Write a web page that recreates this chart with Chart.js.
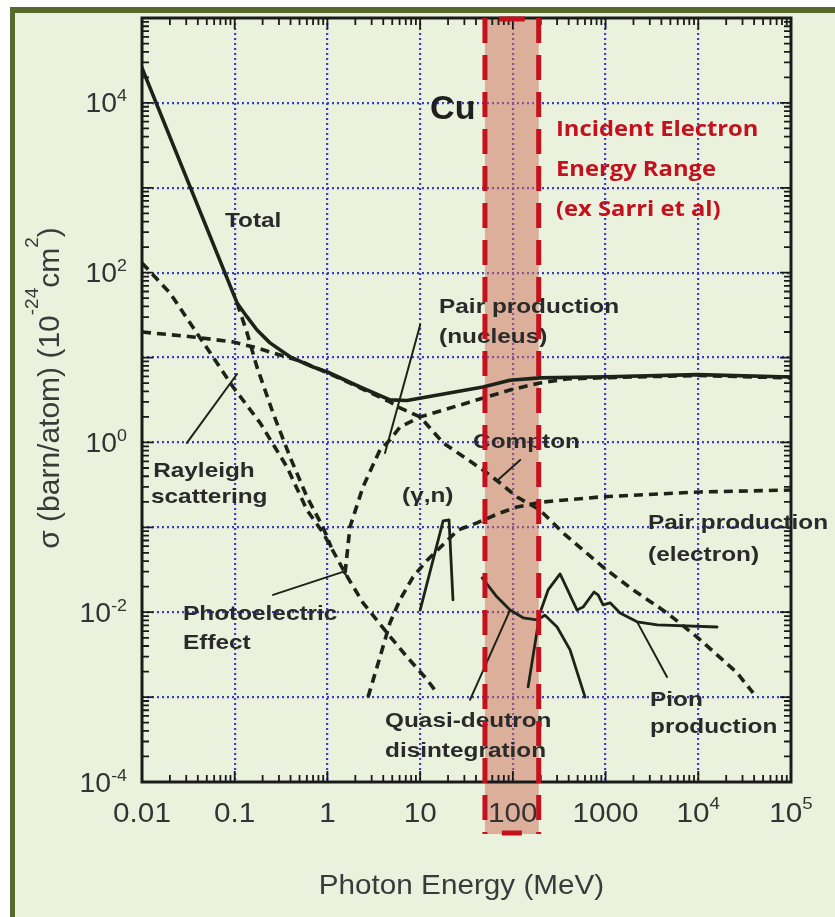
<!DOCTYPE html>
<html>
<head>
<meta charset="utf-8">
<script src="https://cdn.jsdelivr.net/npm/chart.js@4.4.1/dist/chart.umd.min.js"></script>
<style>
  html, body { margin: 0; padding: 0; background: #ffffff; }
  #wrap { width: 835px; height: 917px; }
  canvas { display: block; }
</style>
</head>
<body>
<div id="wrap"><canvas id="xsec" width="835" height="917"></canvas></div>
<script>
// Photon interaction cross sections in copper, barn/atom versus photon energy in MeV

const energyTotal = [0.01, 0.106, 0.136, 0.174, 0.24, 0.395, 0.70, 1.0, 2.25, 4.73, 7.2, 47.6, 93, 195, 1040, 9800, 1e5];
const sigmaTotal  = [25800, 44, 30.1, 21.1, 14.9, 10.2, 7.74, 6.76, 4.5, 3.17, 3.12, 4.5, 5.4, 5.76, 5.95, 6.3, 5.9];

const energyRayleigh = [0.01, 0.02, 0.039, 0.096, 0.188, 0.366, 0.602, 0.897, 1.55, 2.42, 4.40, 7.23, 11.9, 15.2];
const sigmaRayleigh  = [130, 57.7, 19.5, 4.5, 1.70, 0.514, 0.160, 0.086, 0.029, 0.0129, 0.0057, 0.00297, 0.0016, 0.00112];

const energyPhoto = [0.106, 0.136, 0.174, 0.259, 0.395, 0.602, 0.897, 1.1];
const sigmaPhoto  = [44, 19.5, 7.7, 2.22, 0.674, 0.228, 0.10, 0.058];

const energyCompton = [0.01, 0.0355, 0.096, 0.174, 0.308, 0.506, 1.0, 2.25, 4.73, 6.06, 10, 17.7, 47.6, 72.8, 111, 196, 348, 940, 1980, 4610, 9700, 26200, 39000];
const sigmaCompton  = [20, 17.5, 15.3, 13.0, 10.7, 9.1, 6.6, 4.4, 3.0, 2.55, 2.0, 0.99, 0.474, 0.333, 0.228, 0.160, 0.086, 0.034, 0.0183, 0.0098, 0.0051, 0.00193, 0.00112];

const energyPairNucleus = [1.55, 1.75, 2.42, 3.69, 4.73, 6.06, 10, 32, 93, 196, 384, 1040, 9800, 1e5];
const sigmaPairNucleus  = [0.029, 0.101, 0.30, 0.82, 1.07, 1.52, 2.0, 2.92, 4.15, 5.02, 5.6, 5.8, 6.15, 5.75];

const energyPairElectron = [2.74, 3.69, 4.73, 6.06, 8.38, 11.9, 25.6, 41.1, 72.8, 111, 212, 873, 10450, 1e5];
const sigmaPairElectron  = [0.001, 0.00297, 0.0075, 0.014, 0.026, 0.041, 0.093, 0.113, 0.148, 0.174, 0.199, 0.228, 0.261, 0.275];

const energyGammaN = [10, 17.7, 20.5, 22.6];
const sigmaGammaN  = [0.0106, 0.119, 0.122, 0.014];

const energyQuasiDeuteron = [46.6, 67.6, 93.3, 129, 182, 222, 300, 414, 601];
const sigmaQuasiDeuteron  = [0.0254, 0.0151, 0.0106, 0.0086, 0.0081, 0.0092, 0.0067, 0.0036, 0.001];

const energyPion = [146, 196, 240, 323, 493, 572, 751, 830, 940, 1119, 1433, 2188, 3597, 15960];
const sigmaPion  = [0.00132, 0.0098, 0.0183, 0.0283, 0.0106, 0.0115, 0.0173, 0.016, 0.0122, 0.0129, 0.0098, 0.0077, 0.0071, 0.0067];

// leader lines from the captions to their curves: [energy, sigma] pairs
const leaderRayleigh    = [[0.0305, 0.987], [0.106, 6.4]];
const leaderPairNucleus = [[10, 24.2], [4.18, 0.75]];
const leaderCompton     = [[120, 0.622], [69, 0.361]];
const leaderPhoto       = [[0.259, 0.016], [1.47, 0.0299], [1.67, 0.026]];
const leaderQuasi       = [[34.5, 0.00093], [93.3, 0.0106]];
const leaderPion        = [[2188, 0.0077], [4600, 0.00173]];

// incident electron energy range (MeV)
const bandRange = [50, 190];

const xTickValues = [0.01, 0.1, 1, 10, 100, 1000, 1e4, 1e5];
const xTickLabels = ['0.01', '0.1', '1', '10', '100', '1000', '10^4', '10^5'];
const yTickValues = [1e-4, 1e-2, 1, 1e2, 1e4];
const yTickLabels = ['10^-4', '10^-2', '10^0', '10^2', '10^4'];

const curveCaptions = [
  { text: 'Total',           at: [0.0785, 406] },
  { text: 'Rayleigh',        at: [0.0132, 0.461] },
  { text: 'scattering',      at: [0.0125, 0.228] },
  { text: 'Photoelectric',   at: [0.0277, 0.00955] },
  { text: 'Effect',          at: [0.0277, 0.00435] },
  { text: 'Pair production', at: [16.0, 39.4] },
  { text: '(nucleus)',       at: [16.0, 17.5] },
  { text: 'Compton',         at: [37.2, 1.01] },
  { text: '(\u03B3,n)',      at: [6.38, 0.234] },
  { text: 'Pair production', at: [2872, 0.1127] },
  { text: '(electron)',      at: [2872, 0.0473] },
  { text: 'Quasi-deutron',   at: [4.18, 5.25e-4] },
  { text: 'disintegration',  at: [4.18, 2.32e-4] },
  { text: 'Pion',            at: [3020, 9.27e-4] },
  { text: 'production',      at: [3020, 4.46e-4] }
];
const elementCaption = { text: 'Cu', at: [12.8, 8240] };
const bandCaption = { lines: ['Incident Electron', 'Energy Range', '(ex Sarri et al)'], at: [292, [4800, 1622, 548]] };

const xTitle = 'Photon Energy (MeV)';
const yTitleParts = [['\u03C3 (barn/atom) (10', false], ['-24', true], ['cm', false], ['2', true], [')', false]];

// ---------------------------------------------------------------

const INK = '#1c2318';
const GRID = '#3c3cc8';
const BG = '#eaf2dd';
const OLIVE = '#56692f';
const RED = '#c3121d';
const FONT = '"Liberation Sans", Arial, sans-serif';

const pairs = (E, S) => E.map((e, i) => ({ x: e, y: S[i] }));
const points = (list) => list.map(p => ({ x: p[0], y: p[1] }));

function solid(label, data, width) {
  return { label, data, borderColor: INK, borderWidth: width, pointRadius: 0, tension: 0, fill: false,
           borderCapStyle: 'round', borderJoinStyle: 'round' };
}
function dashed(label, data) {
  return { label, data, borderColor: INK, borderWidth: 3.6, borderDash: [9, 6], pointRadius: 0, tension: 0,
           fill: false, borderCapStyle: 'butt', borderJoinStyle: 'round' };
}

const datasets = [
  solid('Total', pairs(energyTotal, sigmaTotal), 3.6),
  dashed('Rayleigh scattering', pairs(energyRayleigh, sigmaRayleigh)),
  dashed('Photoelectric effect', pairs(energyPhoto, sigmaPhoto)),
  dashed('Compton', pairs(energyCompton, sigmaCompton)),
  dashed('Pair production (nucleus)', pairs(energyPairNucleus, sigmaPairNucleus)),
  dashed('Pair production (electron)', pairs(energyPairElectron, sigmaPairElectron)),
  solid('(gamma,n)', pairs(energyGammaN, sigmaGammaN), 2.8),
  solid('Quasi-deuteron', pairs(energyQuasiDeuteron, sigmaQuasiDeuteron), 2.8),
  solid('Pion production', pairs(energyPion, sigmaPion), 2.8),
  solid('leader Rayleigh', points(leaderRayleigh), 2),
  solid('leader pair nucleus', points(leaderPairNucleus), 2),
  solid('leader Compton', points(leaderCompton), 2),
  solid('leader photoelectric', points(leaderPhoto), 2),
  solid('leader quasi-deuteron', points(leaderQuasi), 2),
  solid('leader pion', points(leaderPion), 2)
];

function decades(scale) {
  const out = [];
  const a = Math.round(Math.log10(scale.min)), b = Math.round(Math.log10(scale.max));
  for (let p = a; p <= b; p++) out.push(Number('1e' + p));
  return out;
}

const gridColor = (c) => {
  const s = c.scale, v = c.tick && c.tick.value;
  if (v == null) return 'rgba(0,0,0,0)';
  if (Math.abs(Math.log10(v) - Math.log10(s.min)) < 1e-6 || Math.abs(Math.log10(v) - Math.log10(s.max)) < 1e-6) return 'rgba(0,0,0,0)';
  return GRID;
};

function logScale(min, max) {
  return {
    type: 'logarithmic', min, max,
    afterBuildTicks: (s) => { s.ticks = decades(s).map(v => ({ value: v, major: true })); },
    ticks: { display: false },
    grid: { drawTicks: false, color: gridColor, lineWidth: 2.2 },
    border: { display: false, dash: [2, 3] }
  };
}

// draws "10^n" style text with a raised exponent, optionally widened by sx
function drawPowerText(ctx, str, x, y, align, baseFont, supFont, rise, sx) {
  const parts = str.split('^');
  ctx.font = baseFont;
  const wb = ctx.measureText(parts[0]).width * sx;
  let ws = 0;
  if (parts[1] !== undefined) { ctx.font = supFont; ws = ctx.measureText(parts[1]).width * sx; }
  const total = wb + ws;
  let x0 = x;
  if (align === 'center') x0 = x - total / 2;
  else if (align === 'right') x0 = x - total;
  ctx.textAlign = 'left';
  ctx.textBaseline = 'alphabetic';
  ctx.font = baseFont;
  stretchedText(ctx, parts[0], x0, y, sx);
  if (parts[1] !== undefined) { ctx.font = supFont; stretchedText(ctx, parts[1], x0 + wb, y - rise, sx); }
}

function stretchedText(ctx, text, x, y, sx) {
  ctx.save();
  ctx.translate(x, y);
  ctx.scale(sx, 1);
  ctx.fillText(text, 0, 0);
  ctx.restore();
}

const backdrop = {
  id: 'backdrop',
  beforeDraw(chart) {
    const ctx = chart.ctx, W = chart.width, H = chart.height;
    ctx.save();
    ctx.fillStyle = '#ffffff';
    ctx.fillRect(0, 0, W, H);
    ctx.fillStyle = BG;
    ctx.fillRect(12, 10, W - 12, H - 10);
    ctx.fillStyle = OLIVE;
    ctx.fillRect(10, 7, W - 10, 6);
    ctx.fillRect(10, 7, 5, H - 7);
    ctx.restore();
  }
};

const bandFill = {
  id: 'bandFill',
  beforeDatasetsDraw(chart) {
    const ctx = chart.ctx, x = chart.scales.x, a = chart.chartArea;
    const x0 = x.getPixelForValue(bandRange[0]), x1 = x.getPixelForValue(bandRange[1]);
    ctx.save();
    ctx.fillStyle = 'rgba(206,108,88,0.5)';
    ctx.fillRect(x0, a.top, x1 - x0, a.bottom + 52 - a.top);
    ctx.restore();
  }
};

const frameAndLabels = {
  id: 'frameAndLabels',
  afterDatasetsDraw(chart) {
    const ctx = chart.ctx, a = chart.chartArea, xs = chart.scales.x, ys = chart.scales.y;
    ctx.save();
    // axis box
    ctx.strokeStyle = '#1a1a1a';
    ctx.lineWidth = 3;
    ctx.strokeRect(a.left, a.top, a.right - a.left, a.bottom - a.top);
    // inward major and minor ticks on all four sides
    ctx.lineWidth = 1.8;
    ctx.beginPath();
    decades(xs).forEach(d => {
      for (let m = 1; m <= 9; m++) {
        const v = m * d;
        if (v > xs.max * 1.0001) break;
        const px = xs.getPixelForValue(v), len = m === 1 ? 11 : 7;
        ctx.moveTo(px, a.bottom); ctx.lineTo(px, a.bottom - len);
        ctx.moveTo(px, a.top); ctx.lineTo(px, a.top + len);
      }
    });
    decades(ys).forEach(d => {
      for (let m = 1; m <= 9; m++) {
        const v = m * d;
        if (v > ys.max * 1.0001) break;
        const py = ys.getPixelForValue(v), len = m === 1 ? 11 : 7;
        ctx.moveTo(a.left, py); ctx.lineTo(a.left + len, py);
        ctx.moveTo(a.right, py); ctx.lineTo(a.right - len, py);
      }
    });
    ctx.stroke();

    // tick labels
    ctx.fillStyle = '#333333';
    xTickValues.forEach((v, i) => {
      drawPowerText(ctx, xTickLabels[i], xs.getPixelForValue(v), a.bottom + 40, 'center',
        '27px ' + FONT, '17px ' + FONT, 13, 1.1);
    });
    yTickValues.forEach((v, i) => {
      drawPowerText(ctx, yTickLabels[i], a.left - 15, ys.getPixelForValue(v) + 9.5, 'right',
        '27px ' + FONT, '17px ' + FONT, 11, 1.05);
    });

    // axis titles
    ctx.fillStyle = '#3a3a3a';
    ctx.font = '28px ' + FONT;
    ctx.textAlign = 'center';
    ctx.textBaseline = 'middle';
    stretchedText(ctx, xTitle, (a.left + a.right) / 2 - 5, a.bottom + 104, 1.06);

    const big = '30px ' + FONT, small = '19px ' + FONT;
    let total = 0;
    yTitleParts.forEach(([t, sup]) => { ctx.font = sup ? small : big; total += ctx.measureText(t).width; });
    ctx.save();
    ctx.translate(48, (a.top + a.bottom) / 2 - 12);
    ctx.rotate(-Math.PI / 2);
    ctx.textAlign = 'left';
    ctx.textBaseline = 'alphabetic';
    let u = -total / 2;
    yTitleParts.forEach(([t, sup]) => {
      ctx.font = sup ? small : big;
      ctx.fillText(t, u, sup ? -10 : 11);
      u += ctx.measureText(t).width;
    });
    ctx.restore();

    // captions of the curves
    ctx.fillStyle = '#2a2a2a';
    ctx.font = 'bold 21px ' + FONT;
    ctx.textAlign = 'left';
    ctx.textBaseline = 'middle';
    curveCaptions.forEach(c => {
      stretchedText(ctx, c.text, xs.getPixelForValue(c.at[0]), ys.getPixelForValue(c.at[1]), 1.16);
    });
    ctx.fillStyle = '#1f1f1f';
    ctx.font = 'bold 34px ' + FONT;
    ctx.fillText(elementCaption.text, xs.getPixelForValue(elementCaption.at[0]), ys.getPixelForValue(elementCaption.at[1]));
    ctx.restore();
  }
};

const bandOutline = {
  id: 'bandOutline',
  afterDraw(chart) {
    const ctx = chart.ctx, a = chart.chartArea, xs = chart.scales.x, ys = chart.scales.y;
    const x0 = xs.getPixelForValue(bandRange[0]), x1 = xs.getPixelForValue(bandRange[1]);
    const y0 = a.top, y1 = a.bottom + 52;
    ctx.save();
    ctx.strokeStyle = RED;
    ctx.lineWidth = 5;
    ctx.lineCap = 'butt';
    ctx.setLineDash([25, 12]);
    ctx.beginPath();
    ctx.moveTo(x0, y0); ctx.lineTo(x0, y1);
    ctx.moveTo(x1, y0); ctx.lineTo(x1, y1);
    ctx.stroke();
    ctx.setLineDash([]);
    const mid = (x0 + x1) / 2;
    ctx.beginPath();
    ctx.moveTo(mid - 13, y0 + 1); ctx.lineTo(mid + 13, y0 + 1);
    ctx.moveTo(mid - 10, y1 - 1); ctx.lineTo(mid + 10, y1 - 1);
    ctx.stroke();

    // caption of the band
    ctx.fillStyle = RED;
    ctx.font = 'bold 22px "Open Sans", "DejaVu Sans", sans-serif';
    ctx.textAlign = 'left';
    ctx.textBaseline = 'middle';
    const bx = xs.getPixelForValue(bandCaption.at[0]);
    bandCaption.lines.forEach((t, i) => {
      stretchedText(ctx, t, bx, ys.getPixelForValue(bandCaption.at[1][i]), 1.08);
    });
    ctx.restore();
  }
};

new Chart(document.getElementById('xsec'), {
  type: 'line',
  data: { datasets },
  options: {
    responsive: false,
    animation: false,
    events: [],
    layout: { padding: { left: 142, right: 44, top: 18, bottom: 135 } },
    plugins: { legend: { display: false }, tooltip: { enabled: false } },
    scales: {
      x: logScale(0.01, 1e5),
      y: logScale(1e-4, 1e5)
    }
  },
  plugins: [backdrop, bandFill, frameAndLabels, bandOutline]
});
</script>
</body>
</html>
